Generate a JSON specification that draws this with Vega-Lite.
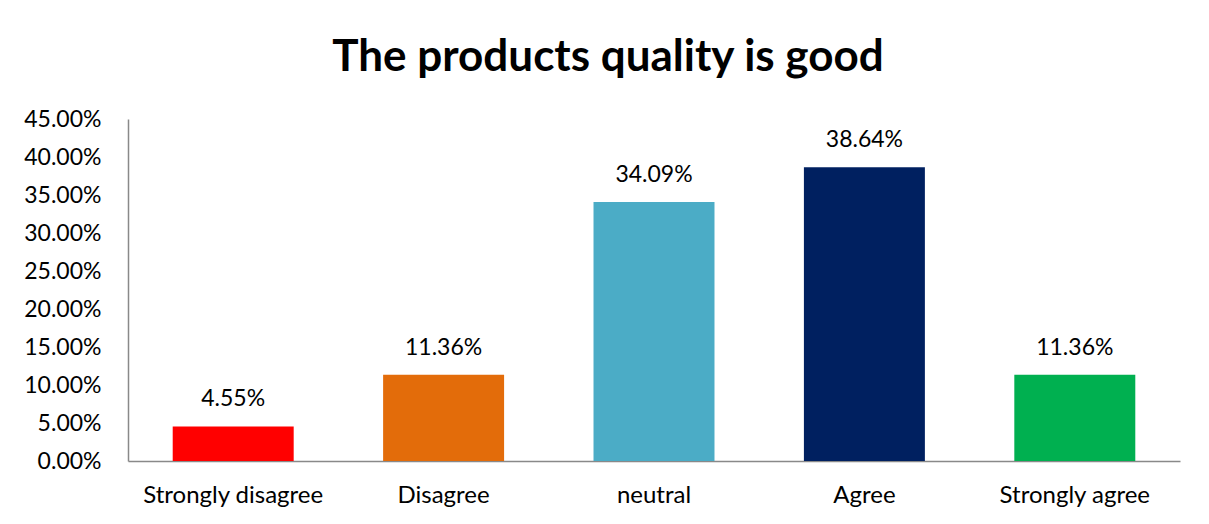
{
  "$schema": "https://vega.github.io/schema/vega-lite/v6.json",
  "autosize": {"type": "none"},
  "width": 1052,
  "height": 342,
  "padding": {"left": 128, "top": 119, "right": 29, "bottom": 63},
  "background": "white",
  "title": {
    "text": "The products quality is good",
    "font": "Lato",
    "fontSize": 44,
    "fontWeight": "bold",
    "color": "#000000",
    "anchor": "middle",
    "frame": "group",
    "dx": -46,
    "offset": 28
  },
  "data": {
    "values": [
      {"category": "Strongly disagree", "value": 0.0455, "label": "4.55%", "color": "#FF0000"},
      {"category": "Disagree", "value": 0.1136, "label": "11.36%", "color": "#E36C0A"},
      {"category": "neutral", "value": 0.3409, "label": "34.09%", "color": "#4BACC6"},
      {"category": "Agree", "value": 0.3864, "label": "38.64%", "color": "#002060"},
      {"category": "Strongly agree", "value": 0.1136, "label": "11.36%", "color": "#00B050"}
    ]
  },
  "encoding": {
    "x": {
      "field": "category",
      "type": "nominal",
      "sort": null,
      "scale": {"paddingInner": 0.425, "paddingOuter": 0.2125},
      "axis": {
        "title": null,
        "labelAngle": 0,
        "labelFont": "Lato",
        "labelFontSize": 24,
        "labelColor": "#000000",
        "labelPadding": 22,
        "labelLimit": 0,
        "labelOverlap": false,
        "ticks": false,
        "domainColor": "#898989",
        "domainWidth": 1.5
      }
    },
    "y": {
      "field": "value",
      "type": "quantitative",
      "scale": {"domain": [0, 0.45], "nice": false},
      "axis": {
        "title": null,
        "values": [0, 0.05, 0.1, 0.15, 0.2, 0.25, 0.3, 0.35, 0.4, 0.45],
        "format": ".2%",
        "grid": false,
        "ticks": false,
        "labelFont": "Lato",
        "labelFontSize": 23,
        "labelColor": "#000000",
        "labelPadding": 27,
        "domainColor": "#898989",
        "domainWidth": 1.5
      }
    }
  },
  "layer": [
    {
      "mark": {"type": "bar"},
      "encoding": {
        "color": {"field": "color", "type": "nominal", "scale": null, "legend": null}
      }
    },
    {
      "mark": {"type": "text", "dy": -27, "font": "Lato", "fontSize": 23, "color": "#000000"},
      "encoding": {"text": {"field": "label"}}
    }
  ],
  "config": {"view": {"stroke": null}}
}
